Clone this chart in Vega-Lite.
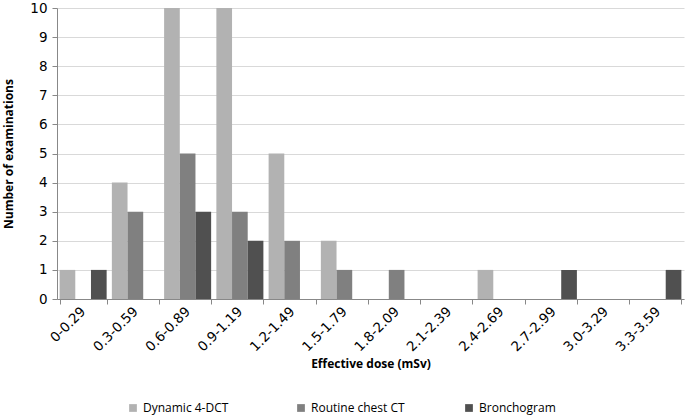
{
  "$schema": "https://vega.github.io/schema/vega-lite/v6.json",
  "autosize": {"type": "none"},
  "width": 627,
  "height": 291,
  "padding": {"left": 57, "top": 8, "right": 1, "bottom": 116},
  "background": "white",
  "data": {
    "values": [
      {"range": "0-0.29", "series": "Dynamic 4-DCT", "count": 1},
      {"range": "0-0.29", "series": "Routine chest CT", "count": 0},
      {"range": "0-0.29", "series": "Bronchogram", "count": 1},
      {"range": "0.3-0.59", "series": "Dynamic 4-DCT", "count": 4},
      {"range": "0.3-0.59", "series": "Routine chest CT", "count": 3},
      {"range": "0.3-0.59", "series": "Bronchogram", "count": 0},
      {"range": "0.6-0.89", "series": "Dynamic 4-DCT", "count": 10},
      {"range": "0.6-0.89", "series": "Routine chest CT", "count": 5},
      {"range": "0.6-0.89", "series": "Bronchogram", "count": 3},
      {"range": "0.9-1.19", "series": "Dynamic 4-DCT", "count": 10},
      {"range": "0.9-1.19", "series": "Routine chest CT", "count": 3},
      {"range": "0.9-1.19", "series": "Bronchogram", "count": 2},
      {"range": "1.2-1.49", "series": "Dynamic 4-DCT", "count": 5},
      {"range": "1.2-1.49", "series": "Routine chest CT", "count": 2},
      {"range": "1.2-1.49", "series": "Bronchogram", "count": 0},
      {"range": "1.5-1.79", "series": "Dynamic 4-DCT", "count": 2},
      {"range": "1.5-1.79", "series": "Routine chest CT", "count": 1},
      {"range": "1.5-1.79", "series": "Bronchogram", "count": 0},
      {"range": "1.8-2.09", "series": "Dynamic 4-DCT", "count": 0},
      {"range": "1.8-2.09", "series": "Routine chest CT", "count": 1},
      {"range": "1.8-2.09", "series": "Bronchogram", "count": 0},
      {"range": "2.1-2.39", "series": "Dynamic 4-DCT", "count": 0},
      {"range": "2.1-2.39", "series": "Routine chest CT", "count": 0},
      {"range": "2.1-2.39", "series": "Bronchogram", "count": 0},
      {"range": "2.4-2.69", "series": "Dynamic 4-DCT", "count": 1},
      {"range": "2.4-2.69", "series": "Routine chest CT", "count": 0},
      {"range": "2.4-2.69", "series": "Bronchogram", "count": 0},
      {"range": "2.7-2.99", "series": "Dynamic 4-DCT", "count": 0},
      {"range": "2.7-2.99", "series": "Routine chest CT", "count": 0},
      {"range": "2.7-2.99", "series": "Bronchogram", "count": 1},
      {"range": "3.0-3.29", "series": "Dynamic 4-DCT", "count": 0},
      {"range": "3.0-3.29", "series": "Routine chest CT", "count": 0},
      {"range": "3.0-3.29", "series": "Bronchogram", "count": 0},
      {"range": "3.3-3.59", "series": "Dynamic 4-DCT", "count": 0},
      {"range": "3.3-3.59", "series": "Routine chest CT", "count": 0},
      {"range": "3.3-3.59", "series": "Bronchogram", "count": 1}
    ]
  },
  "mark": {"type": "bar"},
  "encoding": {
    "x": {
      "field": "range",
      "type": "nominal",
      "sort": null,
      "scale": {"paddingInner": 0.1, "paddingOuter": 0.05},
      "axis": {
        "title": "Effective dose (mSv)",
        "titleFont": "Open Sans",
        "titleFontSize": 12,
        "titleFontWeight": "bold",
        "titleColor": "#000000",
        "titlePadding": 5,
        "labelAngle": -45,
        "labelAlign": "right",
        "labelBaseline": "middle",
        "labelFont": "DejaVu Sans",
        "labelFontSize": 13.5,
        "labelColor": "#000000",
        "labelPadding": 5,
        "tickBand": "extent",
        "tickColor": "#888888",
        "tickSize": 5,
        "domainColor": "#888888",
        "grid": false
      }
    },
    "xOffset": {
      "field": "series",
      "type": "nominal",
      "sort": ["Dynamic 4-DCT", "Routine chest CT", "Bronchogram"]
    },
    "y": {
      "field": "count",
      "type": "quantitative",
      "scale": {"domain": [0, 10], "nice": false},
      "axis": {
        "title": "Number of examinations",
        "titleFont": "Open Sans",
        "titleFontSize": 12,
        "titleFontWeight": "bold",
        "titleColor": "#000000",
        "titlePadding": 14,
        "values": [0, 1, 2, 3, 4, 5, 6, 7, 8, 9, 10],
        "labelFont": "DejaVu Sans",
        "labelFontSize": 13.5,
        "labelColor": "#000000",
        "labelPadding": 5,
        "tickColor": "#888888",
        "tickSize": 5,
        "domainColor": "#888888",
        "gridColor": "#d9d9d9"
      }
    },
    "color": {
      "field": "series",
      "type": "nominal",
      "scale": {
        "domain": ["Dynamic 4-DCT", "Routine chest CT", "Bronchogram"],
        "range": ["#b2b2b2", "#808080", "#505050"]
      },
      "legend": {
        "title": null,
        "orient": "none",
        "legendX": 70,
        "legendY": 394,
        "direction": "horizontal",
        "gridAlign": "all",
        "columnPadding": 58,
        "symbolType": "square",
        "symbolSize": 60,
        "symbolStrokeWidth": 0,
        "labelFont": "Open Sans",
        "labelFontSize": 12,
        "labelColor": "#000000",
        "labelOffset": 4
      }
    }
  },
  "config": {"view": {"stroke": null}}
}
